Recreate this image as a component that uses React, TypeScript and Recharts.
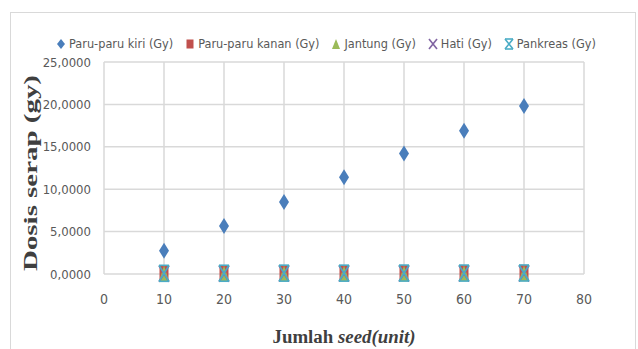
import React from 'react';
import { ScatterChart, Scatter, XAxis, YAxis, CartesianGrid, Legend } from 'recharts';

const seeds = [10, 20, 30, 40, 50, 60, 70];
const paruKiri = [2.75, 5.65, 8.5, 11.4, 14.2, 16.9, 19.8];
const paruKanan = [0.12, 0.14, 0.15, 0.16, 0.17, 0.18, 0.19];
const jantung = [0.05, 0.06, 0.06, 0.07, 0.07, 0.08, 0.08];
const hati = [0.03, 0.03, 0.04, 0.04, 0.04, 0.05, 0.05];
const pankreas = [0.08, 0.09, 0.1, 0.1, 0.11, 0.11, 0.12];

const xTicks = [0, 10, 20, 30, 40, 50, 60, 70, 80];
const yTicks = [0, 5, 10, 15, 20, 25];

const seriesNames = [
    'Paru-paru kiri (Gy)',
    'Paru-paru kanan (Gy)',
    'Jantung (Gy)',
    'Hati (Gy)',
    'Pankreas (Gy)',
];
const seriesColors = ['#4A7EBB', '#C0504D', '#9BBB59', '#8064A2', '#4BACC6'];

const toPoints = (vals: number[]) => seeds.map((s, i) => ({ x: s, y: vals[i] }));

const FONT = '"Liberation Sans Narrow", "DejaVu Sans Condensed", sans-serif';

// marker shapes, Excel style (tall because the source image is stretched)
const Marker = ({ kind, cx, cy, w = 5, h = 8 }: { kind: number; cx: number; cy: number; w?: number; h?: number }) => {
    const c = seriesColors[kind];
    if (kind === 0)
        return <polygon points={`${cx},${cy - h} ${cx + w},${cy} ${cx},${cy + h} ${cx - w},${cy}`} fill={c} />;
    if (kind === 1) return <rect x={cx - w + 0.5} y={cy - h + 0.5} width={2 * w - 1} height={2 * h - 1} fill={c} />;
    if (kind === 2)
        return <polygon points={`${cx - w},${cy + h} ${cx + w},${cy + h} ${cx},${cy - h}`} fill={c} />;
    if (kind === 3)
        return (
            <g stroke={c} strokeWidth={1.6}>
                <line x1={cx - w} y1={cy - h} x2={cx + w} y2={cy + h} />
                <line x1={cx - w} y1={cy + h} x2={cx + w} y2={cy - h} />
            </g>
        );
    return (
        <g stroke={c} strokeWidth={1.6}>
            <line x1={cx - w} y1={cy - h} x2={cx + w} y2={cy + h} />
            <line x1={cx - w} y1={cy + h} x2={cx + w} y2={cy - h} />
            <line x1={cx - w} y1={cy - h} x2={cx + w} y2={cy - h} />
            <line x1={cx - w} y1={cy + h} x2={cx + w} y2={cy + h} />
        </g>
    );
};

const shapeFor = (kind: number) => (props: any) => <Marker kind={kind} cx={props.cx} cy={props.cy} />;

const renderLegend = () => (
    <div style={{ display: 'flex', justifyContent: 'center', fontFamily: FONT, fontSize: 12.6, color: '#595959', paddingLeft: 14 }}>
        {seriesNames.map((name, i) => (
            <div key={name} style={{ display: 'flex', alignItems: 'center', marginRight: i < 4 ? 12 : 0 }}>
                <svg width={10} height={12} style={{ marginRight: 3 }}>
                    <Marker kind={i} cx={5} cy={6} w={4} h={5} />
                </svg>
                <span>{name}</span>
            </div>
        ))}
    </div>
);

const yFmt = (v: number) => v.toFixed(4).replace('.', ',');

const App: React.FC = () => {
    return (
        <div style={{ position: 'absolute', left: 0, top: 0, width: 638, height: 349, overflow: 'hidden', background: '#fff' }}>
            <div
                style={{
                    position: 'absolute',
                    left: 10,
                    top: 12,
                    width: 624,
                    height: 360,
                    border: '1px solid #D9D9D9',
                }}
            />
            <div style={{ position: 'absolute', left: 0, top: 0 }}>
                <ScatterChart width={638} height={349} margin={{ top: 47, right: 54, bottom: 0, left: 0 }}>
                    <CartesianGrid stroke="#D9D9D9" strokeWidth={1.5} />
                    <XAxis
                        type="number"
                        dataKey="x"
                        domain={[0, 80]}
                        ticks={xTicks}
                        axisLine={false}
                        tickLine={false}
                        tickMargin={14}
                        height={75}
                        tick={{ fill: '#595959', fontSize: 14, fontFamily: FONT }}
                        label={(p: any) => {
                            const vb = p.viewBox;
                            return (
                                <text
                                    x={vb.x + vb.width / 2}
                                    y={vb.y + 69}
                                    textAnchor="middle"
                                    fill="#3F3F3F"
                                    fontFamily='"Liberation Serif", serif'
                                    fontWeight="bold"
                                    fontSize={18}
                                    textLength={143}
                                    lengthAdjust="spacingAndGlyphs"
                                >
                                    Jumlah <tspan fontStyle="italic">seed(unit)</tspan>
                                </text>
                            );
                        }}
                    />
                    <YAxis
                        type="number"
                        dataKey="y"
                        domain={[0, 25]}
                        ticks={yTicks}
                        width={104}
                        axisLine={false}
                        tickLine={false}
                        tickMargin={7}
                        tickFormatter={yFmt}
                        tick={{ fill: '#595959', fontSize: 13, fontFamily: FONT }}
                        label={(p: any) => {
                            const vb = p.viewBox;
                            const cy = vb.y + vb.height / 2 + 5;
                            return (
                                <text
                                    x={37}
                                    y={cy}
                                    transform={`rotate(-90, 37, ${cy})`}
                                    textAnchor="middle"
                                    fill="#3F3F3F"
                                    fontFamily='"Liberation Serif", serif'
                                    fontWeight="bold"
                                    fontSize={19}
                                    textLength={196}
                                    lengthAdjust="spacingAndGlyphs"
                                >
                                    Dosis serap (gy)
                                </text>
                            );
                        }}
                    />
                    <Legend
                        verticalAlign="top"
                        content={renderLegend}
                        wrapperStyle={{ top: 36, left: 0, width: 638 }}
                    />
                    <Scatter name={seriesNames[0]} data={toPoints(paruKiri)} fill={seriesColors[0]} shape={shapeFor(0)} isAnimationActive={false} />
                    <Scatter name={seriesNames[1]} data={toPoints(paruKanan)} fill={seriesColors[1]} shape={shapeFor(1)} isAnimationActive={false} />
                    <Scatter name={seriesNames[2]} data={toPoints(jantung)} fill={seriesColors[2]} shape={shapeFor(2)} isAnimationActive={false} />
                    <Scatter name={seriesNames[3]} data={toPoints(hati)} fill={seriesColors[3]} shape={shapeFor(3)} isAnimationActive={false} />
                    <Scatter name={seriesNames[4]} data={toPoints(pankreas)} fill={seriesColors[4]} shape={shapeFor(4)} isAnimationActive={false} />
                </ScatterChart>
            </div>
        </div>
    );
};

export default App;
